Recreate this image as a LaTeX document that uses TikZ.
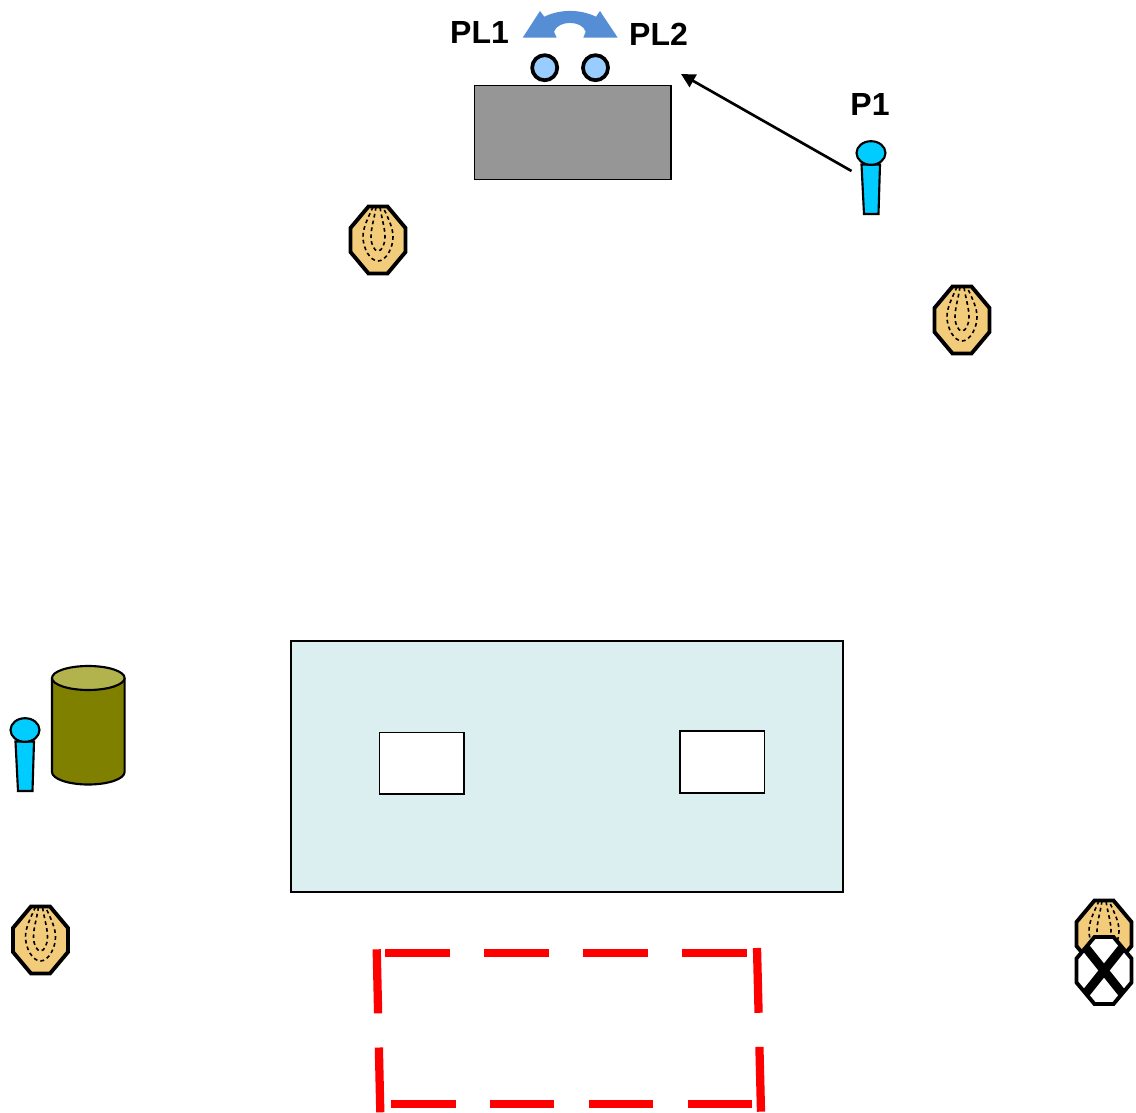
\documentclass[tikz,border=0pt]{standalone}
\usepackage{fontspec}
\setmainfont{Liberation Sans}
\usetikzlibrary{arrows.meta}
\definecolor{shrubtan}{HTML}{F2CC7B}
\definecolor{micblue}{HTML}{00CCFF}
\definecolor{swapblue}{HTML}{558ED5}
\definecolor{plblue}{HTML}{99CCFF}
\definecolor{tablegray}{HTML}{969696}
\definecolor{floorblue}{HTML}{DBEEF0}
\definecolor{drumolive}{HTML}{808000}
\definecolor{drumtop}{HTML}{B3B34D}
\newcommand{\octpath}{(-9.5,-33.5)--(9.5,-33.5)--(27.5,-12)--(27.5,12)--(9.5,33.5)--(-9.5,33.5)--(-27.5,12)--(-27.5,-12)--cycle}
\tikzset{
    lbl/.style={font=\fontsize{24}{24}\selectfont\bfseries,inner sep=0pt},
    redline/.style={red,line width=6.2pt,dash pattern=on 48.6pt off 25.6pt},
    pics/shrub/.style={code={
        \draw[line width=2.9pt,fill=shrubtan,line join=miter] \octpath;
        \draw[line width=1.2pt,dash pattern=on 2.8pt off 2.4pt]
            (-5,-33) .. controls (-11,-20) and (-15,-12) .. (-15,-3)
            .. controls (-15,8) and (-8,21) .. (0,21)
            .. controls (8,21) and (15,8) .. (15,-3)
            .. controls (15,-12) and (11,-20) .. (5,-33);
        \draw[line width=1.2pt,dash pattern=on 2.8pt off 2.4pt]
            (-2,-33) .. controls (-4,-20) and (-7,-12) .. (-7,-3)
            .. controls (-7,4) and (-4,11) .. (0,11)
            .. controls (4,11) and (7,4) .. (7,-3)
            .. controls (7,-12) and (4,-20) .. (2,-33);
    }},
    pics/deadshrub/.style={code={
        \draw[line width=2.9pt,fill=white] \octpath;
        \begin{scope}
            \clip \octpath;
            \draw[line width=6.6pt] (-24,-30)--(24,30);
            \draw[line width=6.6pt] (24,-30)--(-24,30);
        \end{scope}
    }},
    pics/person/.style={code={
        \draw[line width=1.6pt,fill=micblue] (-9.5,11.5)--(9,11.5)--(7.5,61)--(-7,61)--cycle;
        \draw[line width=1.6pt,fill=micblue] (0,0) ellipse [x radius=14.5,y radius=11.8];
    }}
}
\begin{document}
\begin{tikzpicture}[x=.75pt,y=-.75pt]
    \useasboundingbox (0,0) rectangle (1136,1113);
    % table and pallets
    \draw[line width=1.3pt,fill=tablegray] (474.5,85.5) rectangle (671,179.5);
    \node[circle,draw,line width=2.8pt,fill=plblue,minimum size=18.8pt,inner sep=0pt] (pl1) at (544.7,67.7) {};
    \node[circle,draw,line width=2.8pt,fill=plblue,minimum size=18.8pt,inner sep=0pt] (pl2) at (595.5,67.7) {};
    \fill[swapblue] (522.7,37.7)--(540,11)--(544.3,16.7)
        .. controls (560,9) and (580,9) .. (596,16.7)
        --(600,11)--(617.7,37.7)--(583.3,37.7)--(585.7,31.7)
        .. controls (582,20) and (558,20) .. (554,31.7)
        --(556.7,37.7)--cycle;
    \node[lbl] (pl1lbl) at (479.5,32) {PL1};
    \node[lbl] (pl2lbl) at (658.5,34) {PL2};
    \node[lbl] (p1lbl) at (870,104.5) {P1};
    % people
    \pic (p1) at (871,153) {person};
    \pic (p2) at (25,730) {person};
    \coordinate (walkstart) at (851.5,171);
    \coordinate (walkend) at (681,74);
    \draw[line width=2pt,-{Triangle[length=10.5pt,width=10.5pt]}] (walkstart)--(walkend);
    % shrubs
    \pic (s1) at (378,240) {shrub};
    \pic (s2) at (962,320) {shrub};
    \pic (s3) at (40.5,940) {shrub};
    \pic (s4) at (1104,934) {shrub};
    \pic (s5) at (1104,970.5) {deadshrub};
    % drum
    \draw[line width=1.6pt,fill=drumolive] (52,678)--(52,772)
        arc [start angle=180,end angle=360,x radius=36.3,y radius=-12.5]
        --(124.6,678);
    \draw[line width=1.6pt,fill=drumtop] (88.3,678) ellipse [x radius=36.3,y radius=12];
    % floor area
    \draw[line width=2.2pt,fill=floorblue] (291,641) rectangle (843,892);
    \draw[line width=1.3pt,fill=white] (379.5,732.5) rectangle (464,794);
    \draw[line width=1.3pt,fill=white] (680,731) rectangle (764.5,793);
    % red dashed outline
    \draw[redline] (385,953)--(747,953);
    \draw[redline] (757,948)--(761,1112);
    \draw[redline] (752.3,1103.7)--(391,1103.7);
    \draw[redline] (380.3,1112.3)--(376.7,949.3);
\end{tikzpicture}
\end{document}
